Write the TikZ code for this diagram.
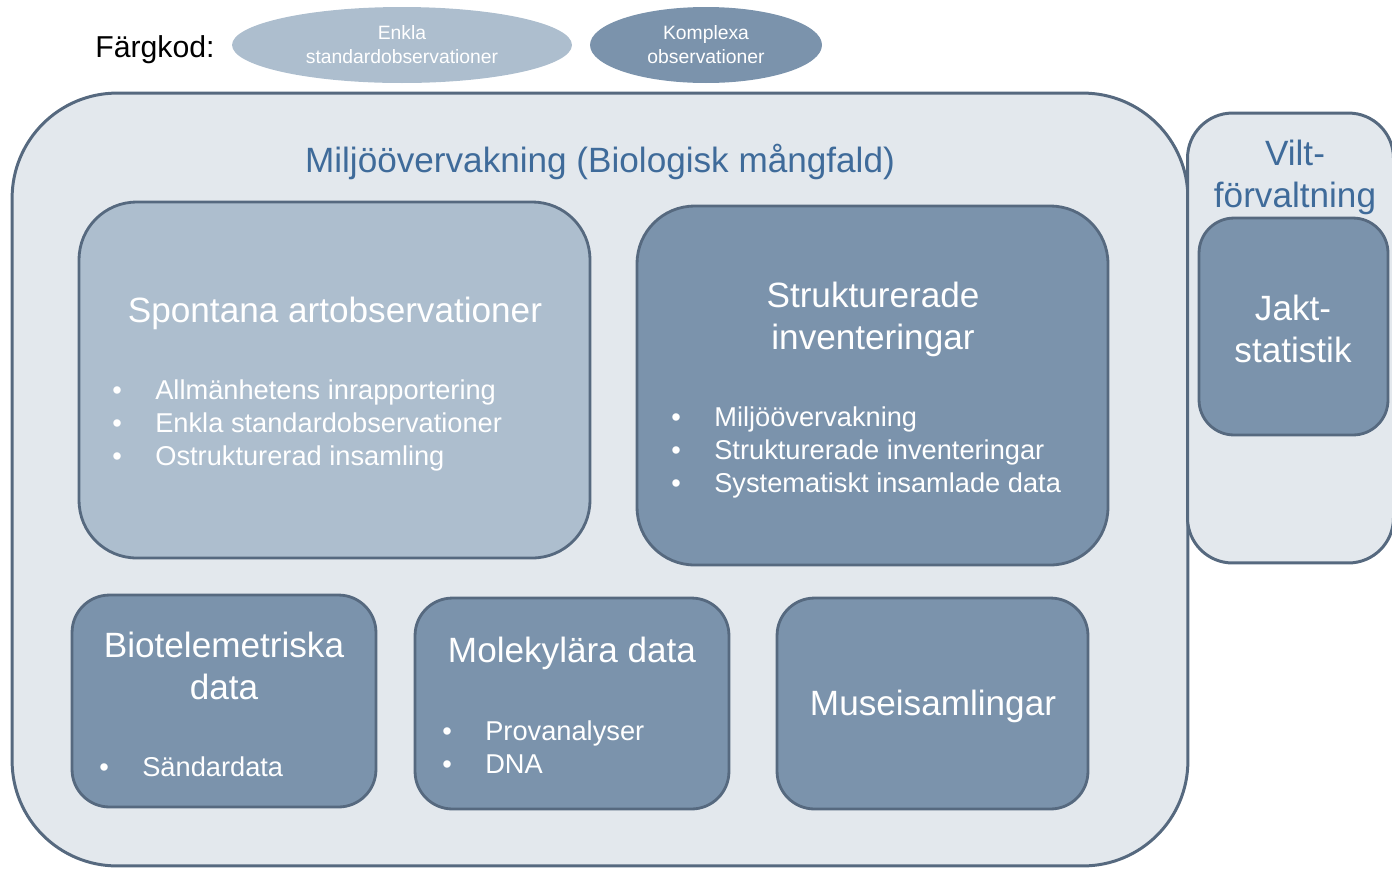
\documentclass[tikz,border=0pt]{standalone}
\usepackage{fontspec}
\setmainfont{Liberation Sans}
\usetikzlibrary{positioning,shapes.geometric}
\definecolor{panel}{HTML}{E3E8ED}
\definecolor{edge}{HTML}{56697F}
\definecolor{simple}{HTML}{ADBECE}
\definecolor{complex}{HTML}{7B93AC}
\definecolor{heading}{HTML}{3F6B9A}
\tikzset{
  areabox/.style={draw=edge, fill=panel, line width=1.7pt, rectangle, inner sep=0pt},
  obsbox/.style={draw=edge, line width=1.6pt, rectangle, inner sep=0pt},
  keyoval/.style={ellipse, minimum height=1.52cm, inner sep=0pt, text=white, font=\fontsize{11}{13.6}\selectfont, align=center},
  boxtitle/.style={text=white, font=\fontsize{20}{23.8}\selectfont, align=center, inner sep=0pt},
  bullets/.style={text=white, font=\fontsize{15.5}{18.7}\selectfont, align=left, inner sep=0pt, anchor=west}
}
\newcommand{\itm}{\makebox[0.86cm][l]{•}}

\begin{document}
\begin{tikzpicture}[x=0.02cm, y=-0.02cm]
  \useasboundingbox (0,0) rectangle (1392,870);
  \clip (0,0) rectangle (1392,870);

  % colour key
  \node [anchor=west, inner sep=0pt, font=\fontsize{17.2}{20}\selectfont] (key) at (95,49.5) {Färgkod:};
  \node [keyoval, fill=simple, minimum width=6.8cm] (keysimple) at (402,45) {Enkla\\standardobservationer};
  \node [keyoval, fill=complex, minimum width=4.64cm] (keycomplex) at (706,45) {Komplexa\\observationer};

  % outer areas
  \node [areabox, minimum width=23.52cm, minimum height=15.46cm, rounded corners=2.1cm] (miljo) at (600,479.5) {};
  \node [areabox, minimum width=4.12cm, minimum height=9cm, rounded corners=0.9cm] (vilt) at (1290.5,338) {};
  \node [boxtitle, text=heading] (miljotitle) at (600,162) {Miljöövervakning (Biologisk mångfald)};
  \node [boxtitle, text=heading] (vilttitle) at (1295,177) {Vilt-\\förvaltning};

  % observation boxes
  \node [obsbox, fill=simple, minimum width=10.22cm, minimum height=7.12cm, rounded corners=1.15cm] (spontana) at (334.5,380) {};
  \node [obsbox, fill=complex, minimum width=9.42cm, minimum height=7.18cm, rounded corners=1.15cm] (struktur) at (872.5,385.5) {};
  \node [obsbox, fill=complex, minimum width=6.08cm, minimum height=4.24cm, rounded corners=0.75cm] (biotel) at (224,701) {};
  \node [obsbox, fill=complex, minimum width=6.28cm, minimum height=4.22cm, rounded corners=0.75cm] (molekyl) at (572,703.5) {};
  \node [obsbox, fill=complex, minimum width=6.22cm, minimum height=4.22cm, rounded corners=0.75cm] (museum) at (932.5,703.5) {};
  \node [obsbox, fill=complex, minimum width=3.78cm, minimum height=4.34cm, rounded corners=0.7cm] (jakt) at (1293.5,326.5) {};

  % texts
  \node [boxtitle] (spontanatitle) at (335,313.5) {Spontana artobservationer};
  \node [bullets] (spontanalist) at (112,425.5) {\itm Allmänhetens inrapportering\\\itm Enkla standardobservationer\\\itm Ostrukturerad insamling};
  \node [boxtitle] (strukturtitle) at (873,319.5) {Strukturerade\\inventeringar};
  \node [bullets] (strukturlist) at (671,452.5) {\itm Miljöövervakning\\\itm Strukturerade inventeringar\\\itm Systematiskt insamlade data};
  \node [boxtitle] (biotitle) at (224,666) {Biotelemetriska\\data};
  \node [bullets] (biolist) at (99,767) {\itm Sändardata};
  \node [boxtitle] (molekyltitle) at (572,653.5) {Molekylära data};
  \node [bullets] (molekyllist) at (442,747.5) {\itm Provanalyser\\\itm DNA};
  \node [boxtitle] (museumtitle) at (933,706.5) {Museisamlingar};
  \node [boxtitle] (jakttitle) at (1293,329) {Jakt-\\statistik};
\end{tikzpicture}
\end{document}
